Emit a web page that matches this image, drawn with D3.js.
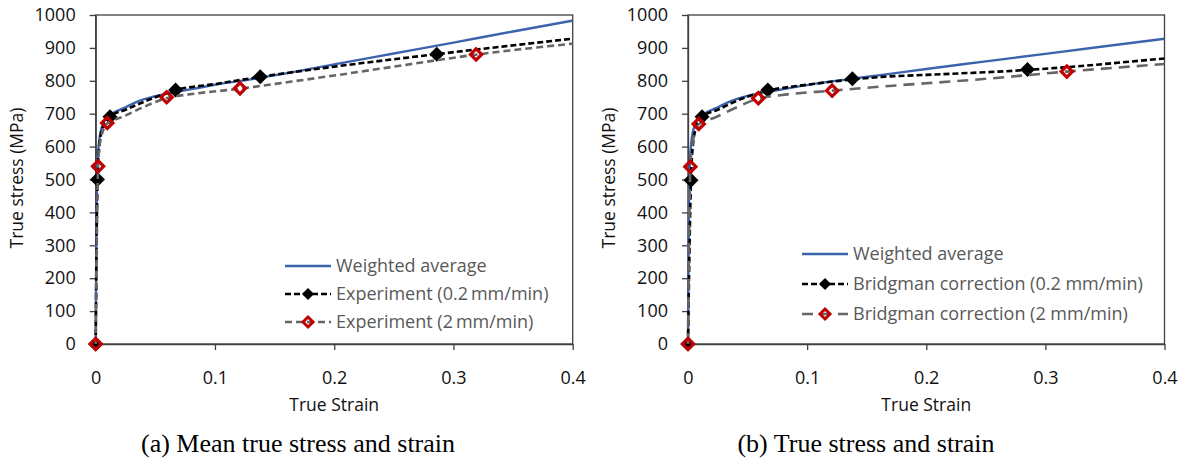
<!DOCTYPE html>
<html>
<head>
<meta charset="utf-8">
<script src="https://d3js.org/d3.v7.min.js"></script>
<style>
  body { margin: 0; background: #fff; }
  svg text { font-family: 'Open Sans', sans-serif; }
</style>
</head>
<body>
<svg id="chart" width="1186" height="464"></svg>
<script>
// ---- data: [true strain, true stress MPa] ----
// (a) mean curves
var avgA = [[0,0],[0.0003,200],[0.0008,420],[0.0015,545],[0.003,620],[0.006,668],[0.01,690],
    [0.015,703],[0.023,716],[0.035,737],[0.05,753],[0.079,774],[0.1,788],[0.135,807],
    [0.163,825],[0.2,850],[0.25,883],[0.3,916],[0.35,950],[0.4,983]];
var exp02A = [[0,0],[0.0015,500],[0.003,600],[0.006,660],[0.012,691],[0.025,712],[0.037,731],
    [0.05,750],[0.067,772],[0.1,790],[0.138,812],[0.2,843],[0.286,881],[0.4,928]];
var exp02MarkA = [[0,0],[0.0015,500],[0.012,691],[0.067,772],[0.138,812],[0.286,881]];
var exp2A = [[0,0],[0.002,540],[0.004,620],[0.0097,670],[0.023,691],[0.04,720],[0.06,748],
    [0.079,759],[0.121,776],[0.163,797],[0.2,816],[0.25,843],[0.32,880],[0.4,913]];
var exp2MarkA = [[0,0],[0.002,540],[0.0097,672],[0.0595,750],[0.121,777],[0.319,880]];

// (b) bridgman corrected curves
var avgB = [[0,0],[0.0003,200],[0.0008,420],[0.0015,545],[0.003,620],[0.006,668],[0.01,690],
    [0.015,703],[0.023,716],[0.035,737],[0.051,755],[0.079,774],[0.1,787],[0.135,805],
    [0.163,818],[0.2,836],[0.25,859],[0.3,882],[0.35,905],[0.4,928]];
var brg02B = [[0,0],[0.0025,498],[0.004,600],[0.007,660],[0.0118,691],[0.025,712],[0.037,733],
    [0.05,752],[0.067,770],[0.1,788],[0.138,804],[0.163,812],[0.2,818],[0.285,833],[0.4,868]];
var brg02MarkB = [[0,0],[0.0025,498],[0.0118,691],[0.067,772],[0.138,806],[0.285,834]];
var brg2B = [[0,0],[0.002,539],[0.004,615],[0.009,668],[0.023,689],[0.04,718],[0.059,746],
    [0.079,757],[0.121,770],[0.161,782],[0.25,806],[0.318,828],[0.4,851]];
var brg2MarkB = [[0,0],[0.002,539],[0.009,669],[0.059,747],[0.121,770],[0.318,828]];

var xTicks = [0, 0.1, 0.2, 0.3, 0.4];
var yTicks = [0, 100, 200, 300, 400, 500, 600, 700, 800, 900, 1000];

var labelsA = ['Weighted average', 'Experiment (0.2\u2009mm/min)', 'Experiment (2\u2009mm/min)'];
var labelsB = ['Weighted average', 'Bridgman correction (0.2 mm/min)', 'Bridgman correction (2 mm/min)'];
var captions = ['(a) Mean true stress and strain', '(b) True stress and strain'];

var svg = d3.select('#chart');

drawPanel(svg, {
    left: 95.7, right: 572.7,
    avg: avgA, s1: exp02A, m1: exp02MarkA, s2: exp2A, m2: exp2MarkA,
    grayDash: '7,4',
    labels: labelsA,
    legend: {x: 285, rows: [266, 294, 322]},
    yTitleX: 17,
    caption: captions[0], captionX: 298
});

drawPanel(svg, {
    left: 688, right: 1164.5,
    avg: avgB, s1: brg02B, m1: brg02MarkB, s2: brg2B, m2: brg2MarkB,
    grayDash: '11,7',
    labels: labelsB,
    legend: {x: 802, rows: [254, 284, 314]},
    yTitleX: 609,
    caption: captions[1], captionX: 866
});

function diamond(r) {
    return 'M0,' + (-r) + 'L' + r + ',0L0,' + r + 'L' + (-r) + ',0Z';
}

function drawPanel(svg, p) {
    var top = 15, bottom = 344;
    var x = d3.scaleLinear().domain([0, 0.4]).range([p.left, p.right]),
        y = d3.scaleLinear().domain([0, 1000]).range([bottom, top]);

    var g = svg.append('g');

    // plot frame
    g.append('rect')
        .attr('x', p.left).attr('y', top)
        .attr('width', p.right - p.left).attr('height', bottom - top)
        .attr('fill', 'none').attr('stroke', '#404040').attr('stroke-width', 1.3);

    var yAxis = g.append('g')
        .attr('transform', 'translate(' + p.left + ',0)')
        .call(d3.axisLeft(y).tickValues(yTicks).tickSize(6).tickSizeOuter(0)
            .tickPadding(14).tickFormat(d3.format('d')));
    var xAxis = g.append('g')
        .attr('transform', 'translate(0,' + bottom + ')')
        .call(d3.axisBottom(x).tickValues(xTicks).tickSize(6).tickSizeOuter(0)
            .tickPadding(21).tickFormat(function(d) { return d === 0 ? '0' : d3.format('.1f')(d); }));

    [xAxis, yAxis].forEach(function(a) {
        a.select('.domain').attr('stroke', '#404040').attr('stroke-width', 1.3);
        a.selectAll('.tick line').attr('stroke', '#404040').attr('stroke-width', 1.3);
        a.selectAll('.tick text').attr('fill', '#111').style('font-size', '18px')
            .style('font-family', "'Open Sans', sans-serif");
    });

    // axis titles
    g.append('text')
        .attr('x', (p.left + p.right) / 2).attr('y', 411)
        .attr('text-anchor', 'middle')
        .style('font-size', '17.5px').attr('fill', '#111')
        .text('True Strain');
    g.append('text')
        .attr('transform', 'translate(' + p.yTitleX + ',' + 178 + ') rotate(-90)')
        .attr('text-anchor', 'middle').attr('dy', '0.35em')
        .style('font-size', '17.5px').attr('fill', '#111')
        .text('True stress (MPa)');

    var line = d3.line()
        .x(function(d) { return x(d[0]); })
        .y(function(d) { return y(d[1]); })
        .curve(d3.curveMonotoneX);

    // weighted average
    g.append('path').datum(p.avg).attr('d', line)
        .attr('fill', 'none').attr('stroke', '#3b64ad').attr('stroke-width', 2.4);

    // 0.2 mm/min
    g.append('path').datum(p.s1).attr('d', line)
        .attr('fill', 'none').attr('stroke', '#000').attr('stroke-width', 2.6)
        .attr('stroke-dasharray', '6,3');
    g.selectAll('.m1').data(p.m1).enter().append('path')
        .attr('class', 'm1')
        .attr('transform', function(d) { return 'translate(' + x(d[0]) + ',' + y(d[1]) + ')'; })
        .attr('d', diamond(7.5)).attr('fill', '#000');

    // 2 mm/min
    g.append('path').datum(p.s2).attr('d', line)
        .attr('fill', 'none').attr('stroke', '#666').attr('stroke-width', 2.6)
        .attr('stroke-dasharray', p.grayDash);
    g.selectAll('.m2').data(p.m2).enter().append('path')
        .attr('class', 'm2')
        .attr('transform', function(d) { return 'translate(' + x(d[0]) + ',' + y(d[1]) + ')'; })
        .attr('d', diamond(5.6)).attr('fill', 'none')
        .attr('stroke', '#c00000').attr('stroke-width', 3.2);

    // legend
    var lx = p.legend.x, lw = 46;
    var styles = [
        {stroke: '#3b64ad', width: 2.4, dash: null},
        {stroke: '#000', width: 2.6, dash: '6,3'},
        {stroke: '#666', width: 2.6, dash: p.grayDash}
    ];
    p.labels.forEach(function(label, i) {
        var ry = p.legend.rows[i], s = styles[i];
        g.append('line')
            .attr('x1', lx).attr('x2', lx + lw).attr('y1', ry).attr('y2', ry)
            .attr('stroke', s.stroke).attr('stroke-width', s.width)
            .attr('stroke-dasharray', s.dash);
        if (i === 1) {
            g.append('path').attr('transform', 'translate(' + (lx + lw / 2) + ',' + ry + ')')
                .attr('d', diamond(6)).attr('fill', '#000');
        }
        if (i === 2) {
            g.append('path').attr('transform', 'translate(' + (lx + lw / 2) + ',' + ry + ')')
                .attr('d', diamond(5)).attr('fill', 'none')
                .attr('stroke', '#c00000').attr('stroke-width', 3);
        }
        g.append('text')
            .attr('x', lx + lw + 5).attr('y', ry).attr('dy', '0.35em')
            .style('font-size', '18px').attr('fill', '#595959')
            .text(label);
    });

    // caption
    g.append('text')
        .attr('x', p.captionX).attr('y', 452)
        .attr('text-anchor', 'middle')
        .style('font-family', "'Liberation Serif', 'Times New Roman', serif")
        .style('font-size', '26px').attr('fill', '#000')
        .text(p.caption);
}
</script>
</body>
</html>
